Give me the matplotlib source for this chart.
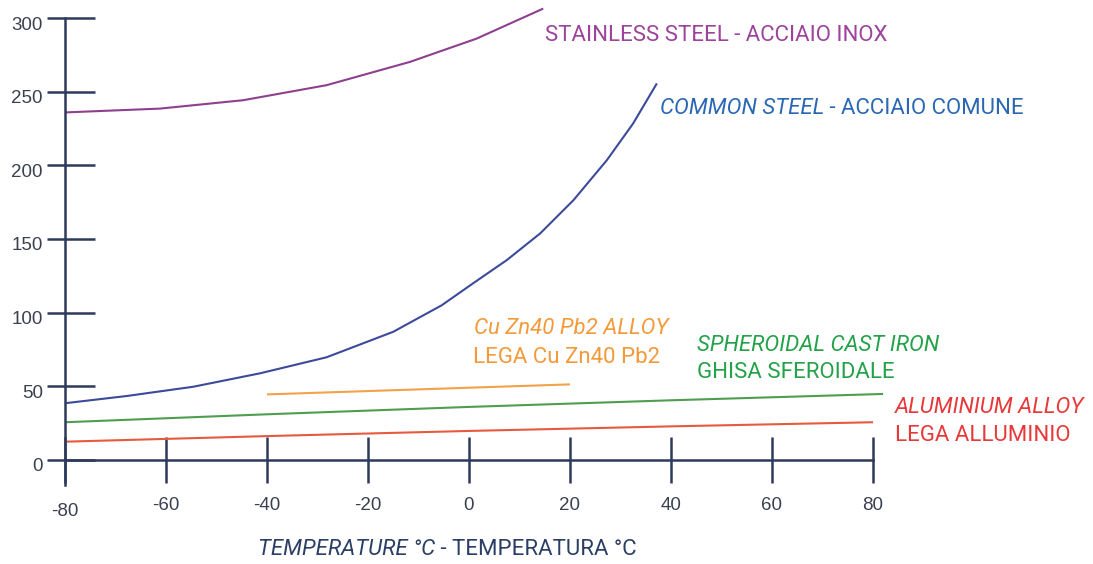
import matplotlib
matplotlib.use("Agg")
import matplotlib.pyplot as plt
from matplotlib.transforms import ScaledTranslation

# ---- data ----
stainless_x = [-80, -61.2, -44.7, -28.2, -11.7, 1.5, 14.7]
stainless_y = [235.9, 238.5, 244.2, 254.4, 270.2, 286, 306.4]

common_x = [-80, -67.8, -54.6, -41.4, -28.2, -15, -5.4, 0.85, 7.5, 14.1, 20.7, 27.3, 32.5, 37.2]
common_y = [38.5, 43.4, 49.7, 58.8, 69.7, 87, 105, 120, 135.7, 153.8, 176.4, 203.5, 228.4, 255.6]

cuzn_x = [-40, 20]
cuzn_y = [44.5, 51.3]

cast_x = [-80, -40, 0, 40, 82]
cast_y = [25.6, 31, 36, 40.5, 44.8]

alu_x = [-80, -40, 0, 40, 80]
alu_y = [12.4, 16.2, 19.7, 22.8, 25.6]

x_ticks = [-80, -60, -40, -20, 0, 20, 40, 60, 80]
y_ticks = [0, 50, 100, 150, 200, 250, 300]

# ---- style ----
plt.rcParams['font.family'] = ['Liberation Sans', 'DejaVu Sans']
LABEL_FONT = ['Liberation Sans Narrow', 'Roboto', 'DejaVu Sans']
AXC = '#2e3a5c'
TICKC = '#3c4150'
W, H, DPI = 1093, 564, 100

fig = plt.figure(figsize=(W / DPI, H / DPI), dpi=DPI)
ax = fig.add_axes([65 / W, 1 - 485 / H, 808 / W, 467 / H])
ax.set_xlim(-80, 80)
ax.set_ylim(-17, 300)
ax.patch.set_alpha(0)

for s in ['top', 'right']:
    ax.spines[s].set_visible(False)
ax.spines['bottom'].set_position(('data', 0))
ax.spines['bottom'].set_bounds(-80, 80)
ax.spines['left'].set_bounds(-17, 300)
for s in ['left', 'bottom']:
    ax.spines[s].set_color(AXC)
    ax.spines[s].set_linewidth(1.8)

px = 72 / DPI
ax.set_xticks(x_ticks)
ax.set_xticklabels([str(v) for v in x_ticks])
ax.tick_params(axis='x', direction='inout', length=47 * px, width=1.8, color=AXC,
               pad=14 * px, labelsize=13.5, labelcolor=TICKC)
ax.set_yticks(y_ticks)
ax.set_yticklabels([str(v) for v in y_ticks])
ax.tick_params(axis='y', direction='in', length=30 * px, width=1.8, color=AXC,
               pad=22 * px, labelsize=13.5, labelcolor=TICKC)
ax.yaxis.remove_overlapping_locs = False
ax.set_yticks(y_ticks, minor=True)
ax.tick_params(axis='y', which='minor', direction='out', length=18 * px, width=1.8,
               color=AXC, labelleft=False)

for lab in ax.get_yticklabels():
    lab.set_transform(lab.get_transform() + ScaledTranslation(0, -5 / DPI, fig.dpi_scale_trans))
for lab in ax.get_xticklabels():
    if lab.get_text() == '-80':
        lab.set_transform(lab.get_transform() + ScaledTranslation(0, -6 / DPI, fig.dpi_scale_trans))

# ---- lines ----
lw = 1.5
ax.plot(stainless_x, stainless_y, color='#8e3f8e', lw=lw, clip_on=False, solid_capstyle='butt')
ax.plot(common_x, common_y, color='#3b4a9a', lw=lw, clip_on=False, solid_capstyle='butt')
ax.plot(cuzn_x, cuzn_y, color='#f2a24a', lw=lw, clip_on=False, solid_capstyle='butt')
ax.plot(cast_x, cast_y, color='#4f9d4f', lw=lw, clip_on=False, solid_capstyle='butt')
ax.plot(alu_x, alu_y, color='#e65a3e', lw=lw, clip_on=False, solid_capstyle='butt')

FS = 16
def px2data(pxx, pxy):
    return -80 + (pxx - 65) / 5.05, (460 - pxy) / 1.474

def two_part(pxx, pxy, first, second, color, first_style='italic'):
    x, y = px2data(pxx, pxy)
    t1 = ax.text(x, y, first, color=color, fontsize=FS, style=first_style,
                 family=LABEL_FONT, ha='left', va='center', clip_on=False)
    if second:
        ax.annotate(second, xy=(1, 0), xycoords=t1, ha='left', va='bottom',
                    color=color, fontsize=FS, family=LABEL_FONT, annotation_clip=False)
    return t1

two_part(545, 35, 'STAINLESS STEEL - ACCIAIO INOX', None, '#9c449c', first_style='normal')
two_part(660, 108, 'COMMON STEEL', ' - ACCIAIO COMUNE', '#2a68b4')
two_part(474, 328, 'Cu Zn40 Pb2 ALLOY', None, '#f39a3a')
two_part(473, 357, 'LEGA Cu Zn40 Pb2', None, '#f39a3a', first_style='normal')
two_part(697, 345, 'SPHEROIDAL CAST IRON', None, '#24a249')
two_part(697, 372, 'GHISA SFEROIDALE', None, '#24a249', first_style='normal')
two_part(895, 408, 'ALUMINIUM ALLOY', None, '#e8393a')
two_part(895, 436, 'LEGA ALLUMINIO', None, '#e8393a', first_style='normal')
two_part(258, 550, 'TEMPERATURE °C', ' - TEMPERATURA °C', '#2b3f66')

fig.savefig('out.png', dpi=DPI)
